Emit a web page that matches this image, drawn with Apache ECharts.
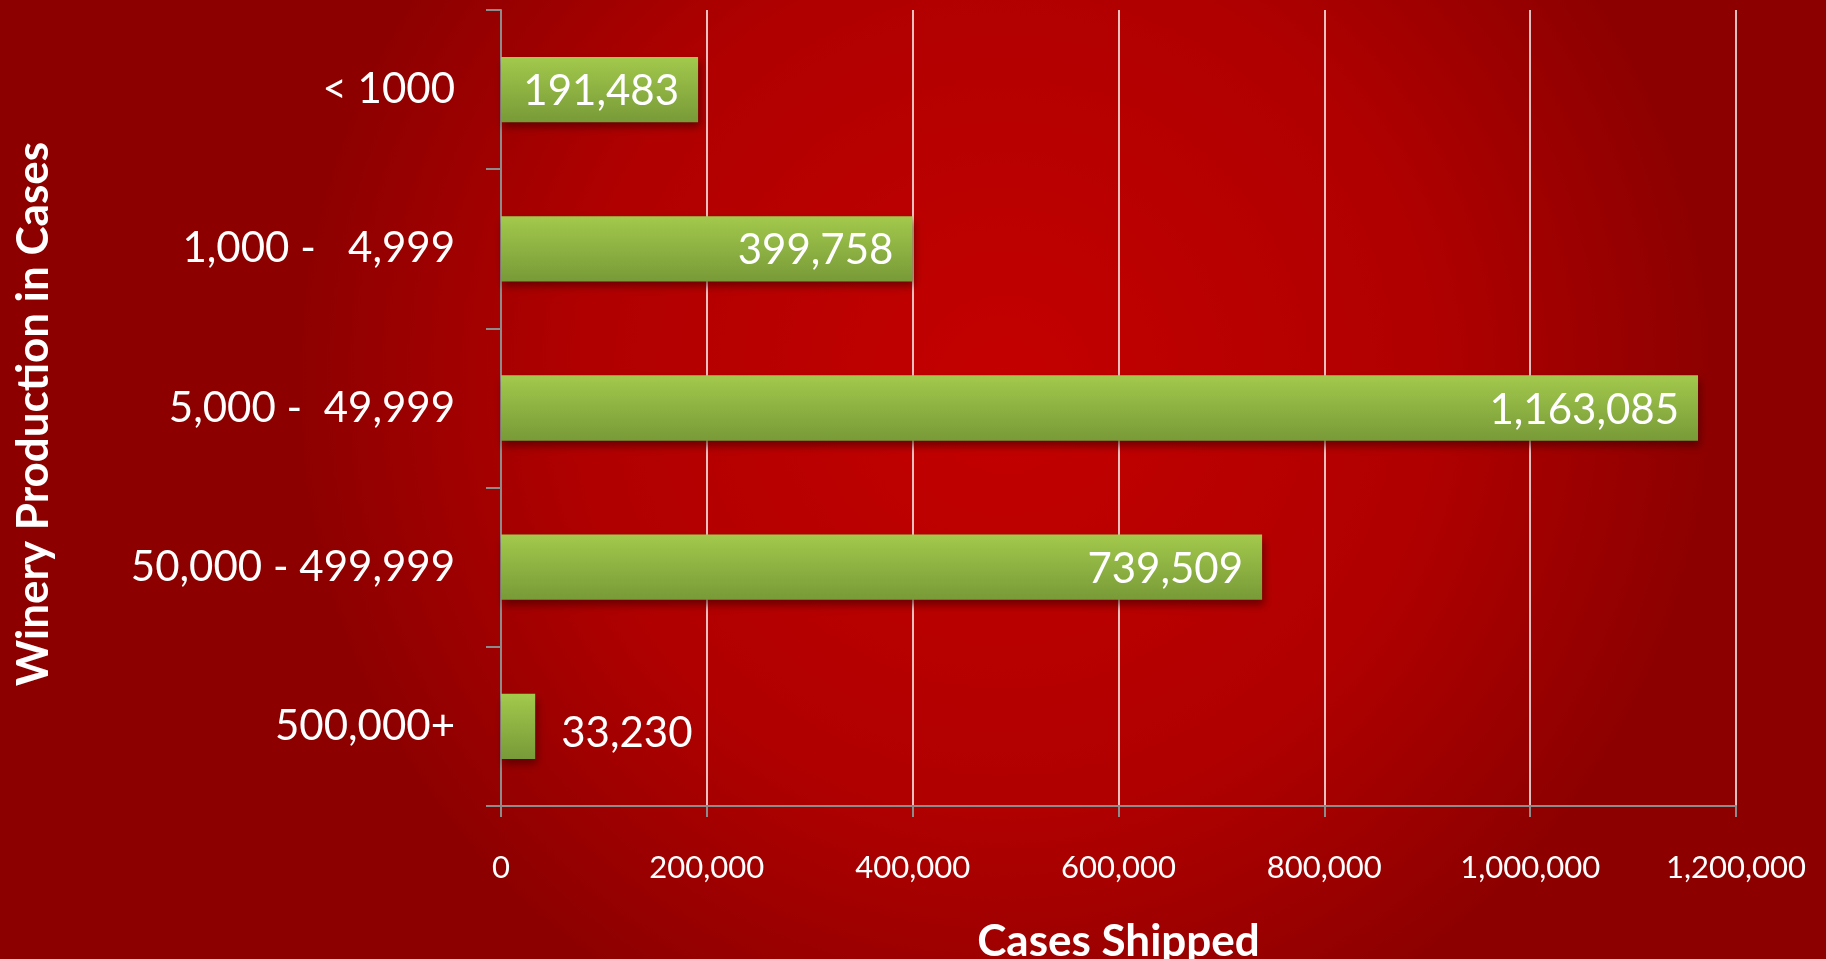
<!DOCTYPE html>
<html>
<head>
<meta charset="utf-8">
<script src="https://cdn.jsdelivr.net/npm/echarts@6/dist/echarts.min.js"></script>
<style>
html,body{margin:0;padding:0;background:#a00000;}
#chart{width:1826px;height:959px;}
</style>
</head>
<body>
<div id="chart"></div>
<script>
const categories = ["< 1000", "1,000 -   4,999", "5,000 -  49,999", "50,000 - 499,999", "500,000+"];
const casesShipped = [191483, 399758, 1163085, 739509, 33230];
const xTicks = { min: 0, max: 1200000, interval: 200000 };
const xTitle = "Cases Shipped";
const yTitle = "Winery Production in Cases";

const fmt = v => v.toLocaleString('en-US');
const FONT = 'Lato, "Noto Sans", sans-serif';

const chart = echarts.init(document.getElementById('chart'));
chart.setOption({
  animation: false,
  backgroundColor: {
    type: 'radial', x: 0.55, y: 0.4, r: 0.75,
    colorStops: [
      { offset: 0, color: '#c40000' },
      { offset: 0.6, color: '#b00000' },
      { offset: 1, color: '#8c0000' }
    ]
  },
  grid: { left: 501, right: 90, top: 10, bottom: 153, containLabel: false, outerBoundsMode: 'none' },
  xAxis: {
    type: 'value',
    min: xTicks.min, max: xTicks.max, interval: xTicks.interval,
    name: xTitle,
    nameLocation: 'middle',
    nameGap: 114,
    nameTextStyle: { color: '#fff', fontFamily: FONT, fontWeight: 'bold', fontSize: 44 },
    axisLine: { show: true, lineStyle: { color: '#8c8c8c', width: 2 } },
    axisTick: { show: true, length: 11, lineStyle: { color: '#8c8c8c', width: 2 } },
    axisLabel: { color: '#fff', fontFamily: FONT, fontSize: 31, margin: 46, formatter: v => fmt(v) },
    splitLine: { show: true, lineStyle: { color: '#ffffff', width: 1.5 } }
  },
  yAxis: {
    type: 'category',
    inverse: true,
    data: categories,
    name: yTitle,
    nameLocation: 'middle',
    nameGap: 445,
    nameRotate: 90,
    nameTextStyle: { color: '#fff', fontFamily: FONT, fontWeight: 'bold', fontSize: 44, padding: [0, 12, 0, 0] },
    axisLine: { show: true, lineStyle: { color: '#8c8c8c', width: 2 } },
    axisTick: { show: true, length: 15, lineStyle: { color: '#8c8c8c', width: 2 } },
    axisLabel: { color: '#fff', fontFamily: FONT, fontSize: 42, margin: 46 },
    splitLine: { show: false }
  },
  series: [{
    type: 'bar',
    barWidth: '41%',
    data: casesShipped.map(v => ({
      value: v,
      label: v < 100000 ? { position: 'right', distance: 26, offset: [0, 7] } : undefined
    })),
    itemStyle: {
      color: {
        type: 'linear', x: 0, y: 0, x2: 0, y2: 1,
        colorStops: [
          { offset: 0, color: '#a3c94c' },
          { offset: 1, color: '#789a38' }
        ]
      },
      shadowColor: 'rgba(60,0,0,0.6)',
      shadowBlur: 8,
      shadowOffsetX: 2,
      shadowOffsetY: 5
    },
    label: {
      show: true,
      position: 'insideRight',
      distance: 19,
      offset: [0, 2],
      color: '#fff',
      fontFamily: FONT,
      fontSize: 42,
      formatter: p => fmt(p.value)
    }
  }]
});
</script>
</body>
</html>
